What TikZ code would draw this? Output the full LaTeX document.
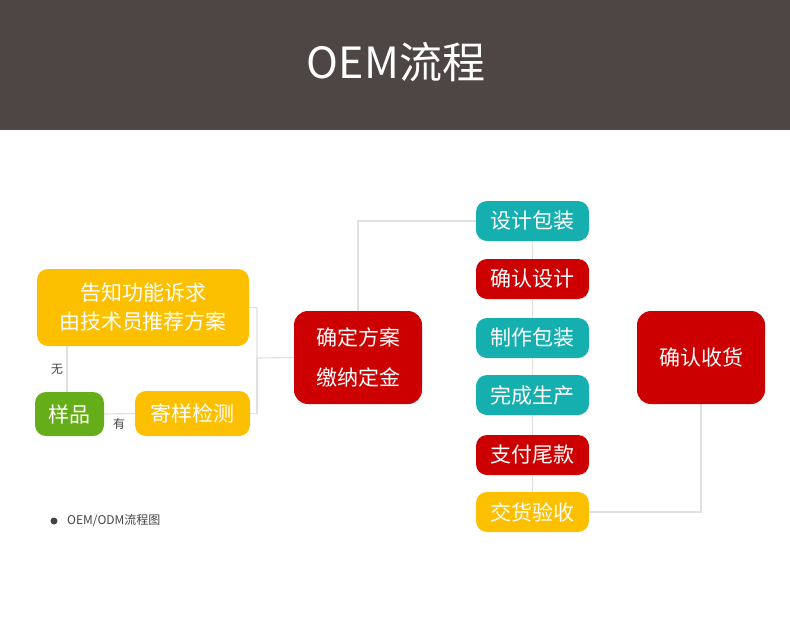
\documentclass[tikz,border=0pt]{standalone}
\usepackage{fontspec}
\setmainfont{Noto Sans CJK SC}
\usetikzlibrary{backgrounds}
\pgfdeclarelayer{bottom}
\pgfsetlayers{bottom,background,main}
\definecolor{hdr}{HTML}{4E4645}
\definecolor{cyel}{HTML}{FDC000}
\definecolor{cred}{HTML}{CC0000}
\definecolor{cteal}{HTML}{16AFB0}
\definecolor{cgreen}{HTML}{66AE19}
\definecolor{cline}{HTML}{E0E0E0}
\definecolor{ctext}{HTML}{444444}
\tikzset{
  box/.style={rounded corners=11pt, text=white, align=center, inner sep=0pt,
    font=\fontsize{21}{29}\selectfont},
  small/.style={box, minimum width=113pt, minimum height=40pt},
  big/.style={box, rounded corners=14pt, minimum width=128pt, minimum height=93pt,
    font=\fontsize{21}{40}\selectfont},
  conn/.style={draw=cline, line width=1.1pt},
  lbl/.style={text=ctext, font=\fontsize{12}{14}\selectfont, inner sep=0pt}
}
\begin{document}
\begin{tikzpicture}[x=1pt,y=-1pt]
\useasboundingbox (0,0) rectangle (790,622);
\begin{pgfonlayer}{bottom}
\fill[white] (0,0) rectangle (790,622);
\fill[hdr] (0,0) rectangle (790,130);
\end{pgfonlayer}
\node[text=white, font=\fontsize{43}{50}\selectfont] (title) at (396,62) {OEM流程};

\node[box, fill=cyel, minimum width=212pt, minimum height=77pt] (gz) at (143,307.5) {告知功能诉求\\由技术员推荐方案};
\node[box, fill=cgreen, minimum width=69pt, minimum height=44pt] (yp) at (69.5,414) {样品};
\node[box, fill=cyel, minimum width=115pt, minimum height=45pt] (jy) at (192.5,413.5) {寄样检测};
\node[big, fill=cred] (qd) at (358,357.5) {确定方案\\缴纳定金};

\node[small, fill=cteal] (sj) at (532.5,221) {设计包装};
\node[small, fill=cred] (qr) at (532.5,279) {确认设计};
\node[small, fill=cteal] (zz) at (532.5,338) {制作包装};
\node[small, fill=cteal] (wc) at (532.5,395) {完成生产};
\node[small, fill=cred] (zf) at (532.5,455) {支付尾款};
\node[small, fill=cyel] (jh) at (532.5,512) {交货验收};
\node[big, fill=cred] (qs) at (701,357.5) {确认收货};

\coordinate (jl) at (257,358);
\begin{scope}[on background layer]
\draw[conn] (gz.east) -| (jl) -- (qd.west);
\draw[conn] (jy.east) -| (jl);
\draw[conn] (67,392) -- (67,346);
\draw[conn] (yp.east) -- (jy.west);
\draw[conn] (qd.north) |- (sj.west);
\draw[conn] (sj.south) -- (jh.north);
\draw[conn] (jh.east) -| (qs.south);
\end{scope}

\node[lbl] (wu) at (57,369) {无};
\node[lbl] (you) at (119,424) {有};

\fill[ctext] (54,521) circle (3.5);
\node[lbl, anchor=west] (legend) at (67,521) {OEM/ODM流程图};
\end{tikzpicture}
\end{document}
